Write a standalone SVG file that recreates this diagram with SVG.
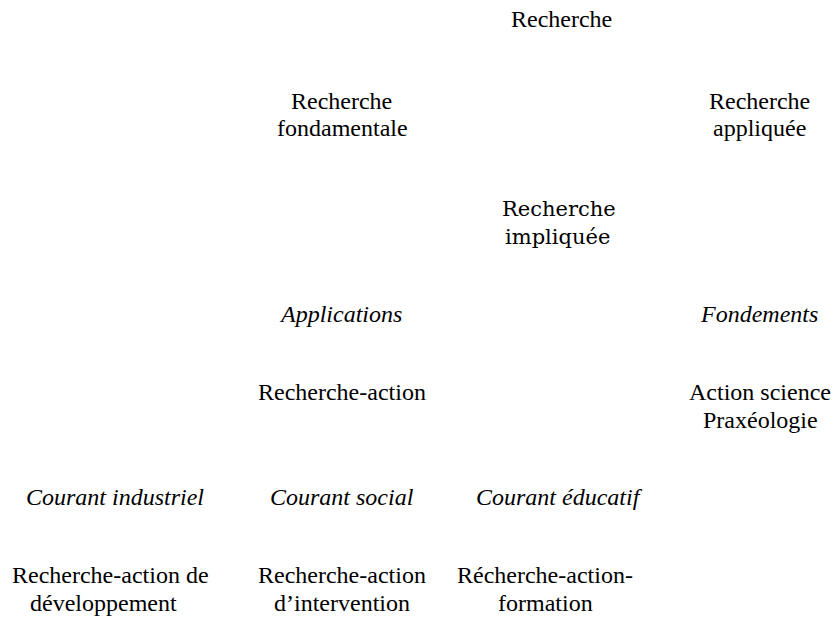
<svg xmlns="http://www.w3.org/2000/svg" width="836" height="620" viewBox="0 0 836 620">
<rect width="836" height="620" fill="#fff"/>
<text style="font-family:'Liberation Serif',serif;font-size:24px" x="511" y="27">Recherche</text>
<text font-family="serif" font-size="24" x="291" y="109">Recherche</text>
<text font-family="serif" font-size="24" x="277" y="136">fondamentale</text>
<text font-family="Times New Roman" font-size="24" x="709" y="109">Recherche</text>
<text font-family="Times New Roman" font-size="24" x="713" y="136">appliqu&#233;e</text>
<text font-family="DejaVu Serif" font-size="21" x="502" y="216">Recherche</text>
<text font-family="DejaVu Serif" font-size="21" x="505" y="244">impliqu&#233;e</text>
<text font-family="Liberation Serif" font-size="24" font-style="italic" x="281" y="322">Applications</text>
<text font-family="Liberation Serif" font-size="24" font-style="italic" x="701" y="322">Fondements</text>
<text font-family="Liberation Serif" font-size="24" x="258" y="400">Recherche-action</text>
<text font-family="Liberation Serif" font-size="24" x="689" y="400">Action science</text>
<text font-family="Liberation Serif" font-size="24" x="703" y="428">Prax&#233;ologie</text>
<text font-family="Liberation Serif" font-size="24" font-style="italic" x="26" y="505">Courant industriel</text>
<text font-family="Liberation Serif" font-size="24" font-style="italic" x="270" y="505">Courant social</text>
<text font-family="Liberation Serif" font-size="24" font-style="italic" x="476" y="505">Courant &#233;ducatif</text>
<text font-family="Liberation Serif" font-size="24" x="12" y="583">Recherche-action de</text>
<text font-family="Liberation Serif" font-size="24" x="30" y="611">d&#233;veloppement</text>
<text font-family="Liberation Serif" font-size="24" x="258" y="583">Recherche-action</text>
<text font-family="Liberation Serif" font-size="24" x="274" y="611">d&#8217;intervention</text>
<text font-family="Liberation Serif" font-size="24" x="457" y="583">R&#233;cherche-action-</text>
<text font-family="Liberation Serif" font-size="24" x="498" y="611">formation</text>
</svg>
